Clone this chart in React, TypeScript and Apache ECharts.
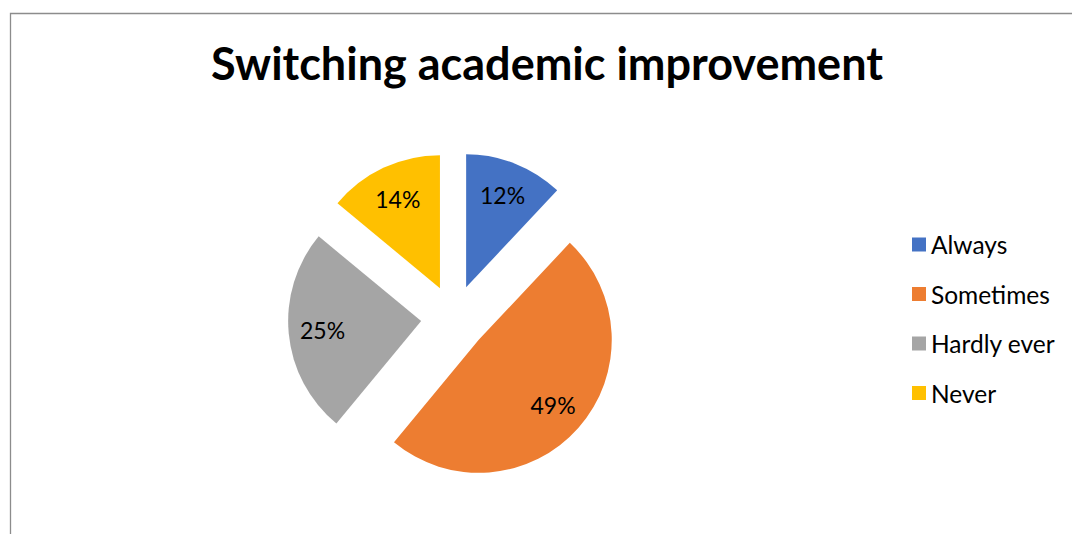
import React, { useEffect, useRef } from "react";
import * as echarts from "echarts";

const titleText = "Switching academic improvement";
const categories = ["Always", "Sometimes", "Hardly ever", "Never"];
const values = [12, 49, 25, 14];
const colors = ["#4472C4", "#ED7D31", "#A5A5A5", "#FFC000"];

export default function App() {
  const ref = useRef<HTMLDivElement>(null);
  useEffect(() => {
    if (!ref.current) return;
    const chart = echarts.init(ref.current, undefined, { renderer: "svg" });
    const data = categories.map((name, i) => ({
      name,
      value: values[i],
      selected: true,
      itemStyle: { color: colors[i] },
    }));
    const font = "Lato, 'Noto Sans', sans-serif";
    chart.setOption({
      animation: false,
      backgroundColor: "#ffffff",
      graphic: [
        {
          type: "rect",
          silent: true,
          shape: { x: 10.5, y: 13.5, width: 1070, height: 600 },
          style: { fill: "none", stroke: "#8c8c8c", lineWidth: 1.3 },
        },
        {
          type: "text",
          x: 547,
          y: 63,
          style: {
            text: titleText,
            fontFamily: font,
            fontWeight: "bold",
            fontSize: 45,
            fill: "#000000",
            align: "center",
            verticalAlign: "middle",
          },
        },
      ],
      legend: {
        orient: "vertical",
        left: 907,
        top: 227,
        itemWidth: 14,
        itemHeight: 14,
        itemGap: 24.5,
        icon: "rect",
        data: categories,
        selectedMode: false,
        textStyle: {
          fontFamily: font,
          fontSize: 24.5,
          color: "#000000",
          lineHeight: 24,
          padding: [0, 0, 0, 0],
        },
      },
      series: [
        {
          type: "pie",
          center: [454, 318],
          radius: [0, 133],
          startAngle: 90,
          clockwise: true,
          selectedMode: "multiple",
          selectedOffset: 33,
          silent: true,
          label: { show: false },
          labelLine: { show: false },
          emphasis: { disabled: true },
          data,
        },
        {
          type: "pie",
          center: [454, 318],
          radius: [59, 133],
          startAngle: 90,
          clockwise: true,
          selectedMode: "multiple",
          selectedOffset: 33,
          silent: true,
          itemStyle: { color: "rgba(0,0,0,0)" },
          emphasis: { disabled: true },
          label: {
            show: true,
            position: "inside",
            formatter: "{c}%",
            fontFamily: font,
            fontSize: 23,
            color: "#000000",
          },
          labelLine: { show: false },
          data: categories.map((name, i) => ({
            name,
            value: values[i],
            selected: true,
            itemStyle: { color: "rgba(0,0,0,0)" },
          })),
        },
      ],
    });
    return () => chart.dispose();
  }, []);
  return (
    <div
      ref={ref}
      style={{ position: "absolute", left: 0, top: 0, width: 1072, height: 534 }}
    />
  );
}
